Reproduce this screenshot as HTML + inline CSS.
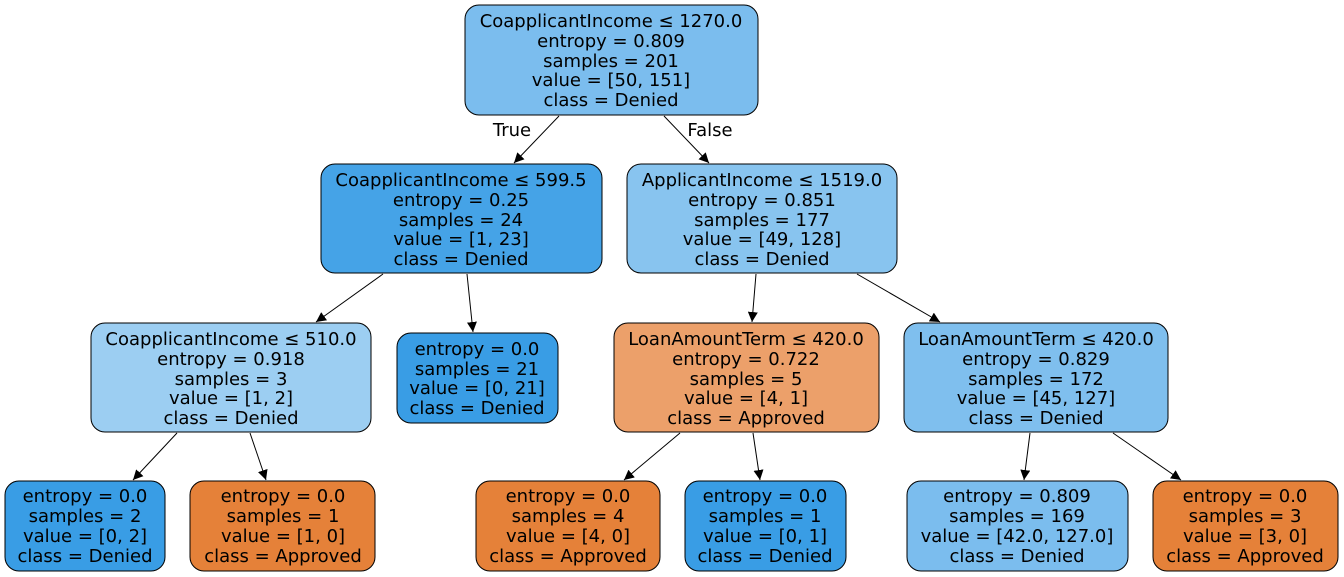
<!DOCTYPE html>
<html><head><meta charset="utf-8"><style>
html,body{margin:0;padding:0;background:#fff;}
svg{display:block;}
text{font-family:"DejaVu Sans",sans-serif;font-size:18px;fill:#000;text-anchor:middle;}
rect{stroke:#000;stroke-width:1;}
line{stroke:#000;stroke-width:1;}
</style></head><body>
<svg width="1344" height="577" viewBox="0 0 1344 577" xmlns="http://www.w3.org/2000/svg">
<defs><marker id="a" viewBox="0 0 10 10" refX="10" refY="5" markerWidth="10" markerHeight="10" markerUnits="userSpaceOnUse" orient="auto"><path d="M0,0 L10,5 L0,10 z" fill="#000"/></marker></defs>
<g>
<line x1="559" y1="116" x2="514" y2="163" marker-end="url(#a)"/>
<line x1="664" y1="116" x2="709" y2="163" marker-end="url(#a)"/>
<line x1="383" y1="274" x2="316" y2="322" marker-end="url(#a)"/>
<line x1="467" y1="274" x2="473" y2="332" marker-end="url(#a)"/>
<line x1="756" y1="274" x2="752" y2="322" marker-end="url(#a)"/>
<line x1="857" y1="274" x2="940" y2="322" marker-end="url(#a)"/>
<line x1="177" y1="433" x2="133" y2="480" marker-end="url(#a)"/>
<line x1="250" y1="433" x2="266" y2="480" marker-end="url(#a)"/>
<line x1="680" y1="433" x2="624" y2="480" marker-end="url(#a)"/>
<line x1="753" y1="433" x2="760" y2="480" marker-end="url(#a)"/>
<line x1="1030" y1="433" x2="1024" y2="480" marker-end="url(#a)"/>
<line x1="1113" y1="433" x2="1181" y2="480" marker-end="url(#a)"/>
</g>
<text x="512" y="136">True</text>
<text x="710" y="136">False</text>

<rect x="465" y="5" width="293" height="110" rx="14" fill="#7bbdee"/>
<text x="611" y="27">CoapplicantIncome ≤ 1270.0</text><text x="611" y="47">entropy = 0.809</text><text x="611" y="67">samples = 201</text><text x="611" y="86">value = [50, 151]</text><text x="611" y="106">class = Denied</text>

<rect x="321" y="164" width="281" height="109" rx="14" fill="#45a3e7"/>
<text x="461" y="186">CoapplicantIncome ≤ 599.5</text><text x="461" y="206">entropy = 0.25</text><text x="461" y="226">samples = 24</text><text x="461" y="245">value = [1, 23]</text><text x="461" y="265">class = Denied</text>

<rect x="627" y="164" width="270" height="109" rx="14" fill="#88c4ef"/>
<text x="762" y="186">ApplicantIncome ≤ 1519.0</text><text x="762" y="206">entropy = 0.851</text><text x="762" y="226">samples = 177</text><text x="762" y="245">value = [49, 128]</text><text x="762" y="265">class = Denied</text>

<rect x="91" y="323" width="280" height="109" rx="14" fill="#9ccef2"/>
<text x="231" y="345">CoapplicantIncome ≤ 510.0</text><text x="231" y="365">entropy = 0.918</text><text x="231" y="385">samples = 3</text><text x="231" y="404">value = [1, 2]</text><text x="231" y="424">class = Denied</text>

<rect x="397" y="333" width="161" height="90" rx="14" fill="#399de5"/>
<text x="477" y="355">entropy = 0.0</text><text x="477" y="375">samples = 21</text><text x="477" y="394">value = [0, 21]</text><text x="477" y="414">class = Denied</text>

<rect x="614" y="323" width="265" height="109" rx="14" fill="#eca06a"/>
<text x="746" y="345">LoanAmountTerm ≤ 420.0</text><text x="746" y="365">entropy = 0.722</text><text x="746" y="385">samples = 5</text><text x="746" y="404">value = [4, 1]</text><text x="746" y="424">class = Approved</text>

<rect x="904" y="323" width="264" height="109" rx="14" fill="#7fbfee"/>
<text x="1036" y="345">LoanAmountTerm ≤ 420.0</text><text x="1036" y="365">entropy = 0.829</text><text x="1036" y="385">samples = 172</text><text x="1036" y="404">value = [45, 127]</text><text x="1036" y="424">class = Denied</text>

<rect x="5" y="481" width="160" height="90" rx="14" fill="#399de5"/>
<text x="85" y="502">entropy = 0.0</text><text x="85" y="522">samples = 2</text><text x="85" y="542">value = [0, 2]</text><text x="85" y="562">class = Denied</text>

<rect x="190" y="481" width="185" height="90" rx="14" fill="#e58139"/>
<text x="283" y="502">entropy = 0.0</text><text x="283" y="522">samples = 1</text><text x="283" y="542">value = [1, 0]</text><text x="283" y="562">class = Approved</text>

<rect x="476" y="481" width="184" height="90" rx="14" fill="#e58139"/>
<text x="568" y="502">entropy = 0.0</text><text x="568" y="522">samples = 4</text><text x="568" y="542">value = [4, 0]</text><text x="568" y="562">class = Approved</text>

<rect x="685" y="481" width="161" height="90" rx="14" fill="#399de5"/>
<text x="765" y="502">entropy = 0.0</text><text x="765" y="522">samples = 1</text><text x="765" y="542">value = [0, 1]</text><text x="765" y="562">class = Denied</text>

<rect x="907" y="481" width="221" height="90" rx="14" fill="#7bbdee"/>
<text x="1017" y="502">entropy = 0.809</text><text x="1017" y="522">samples = 169</text><text x="1017" y="542">value = [42.0, 127.0]</text><text x="1017" y="562">class = Denied</text>

<rect x="1153" y="481" width="185" height="90" rx="14" fill="#e58139"/>
<text x="1245" y="502">entropy = 0.0</text><text x="1245" y="522">samples = 3</text><text x="1245" y="542">value = [3, 0]</text><text x="1245" y="562">class = Approved</text>
</svg>
</body></html>
